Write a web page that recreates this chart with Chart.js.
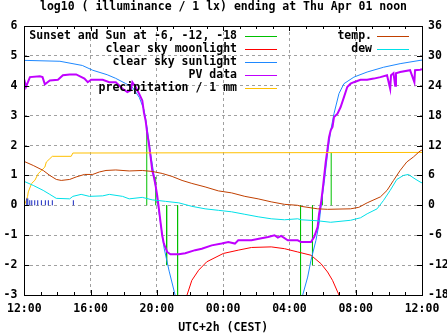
<!DOCTYPE html>
<html>
<head>
<meta charset="utf-8">
<script src="https://cdn.jsdelivr.net/npm/chart.js@4/dist/chart.umd.min.js"></script>
<style>
  html, body { margin: 0; padding: 0; background: #fff; }
  canvas { display: block; }
</style>
</head>
<body>
<canvas id="chart" width="447" height="335"></canvas>
<script>
'use strict';

// ---------- Data (x = hours after 12:00 noon) ----------
const TITLE = 'log10 ( illuminance / 1 lx) ending at Thu Apr 01 noon';

// sunset, sun at -6, -12, -18 (evening) and back (morning)
const eventHours = [7.39, 7.93, 8.59, 9.25, 16.67, 17.39, 17.99, 18.52];
const eventLevels = [2.6, 0.95, -2.0, -3.0, -3.0, -2.0, 0.4, 1.77];

const moonHours = [9.82, 10.11, 10.52, 11.01, 12.01, 12.91, 13.71, 14.90, 15.70, 16.50, 17.30, 17.90, 18.30, 18.60, 18.99];
const moonLevels = [-3.0, -2.51, -2.17, -1.89, -1.61, -1.50, -1.41, -1.39, -1.45, -1.56, -1.67, -1.95, -2.23, -2.51, -3.0];

const sunHours = [0, 2.15, 3.5, 4.13, 5.0, 5.51, 6.1, 6.52, 6.94, 7.22, 7.32, 7.42, 7.62, 7.84, 8.14, 8.44, 8.74, 9.10,
  12.0,
  16.80, 17.10, 17.30, 17.60, 17.79, 17.90, 18.09, 18.30, 18.49, 18.69, 18.99, 19.29, 19.89, 20.69, 21.68, 22.68, 23.88, 24];
const sunLevels = [4.85, 4.82, 4.68, 4.52, 4.37, 4.25, 4.08, 3.95, 3.61, 3.2, 2.9, 2.55, 1.75, 0.95, -0.27, -1.44, -2.2, -3.0,
  null,
  -3.0, -2.4, -1.84, -1.17, -0.61, -0.06, 0.73, 1.73, 2.5, 3.07, 3.74, 4.07, 4.29, 4.46, 4.62, 4.74, 4.85, 4.86];

const pvHours = [0, 0.10, 0.34, 0.94, 1.10, 1.24, 1.54, 2.03, 2.33, 2.74, 3.13, 3.63, 3.83, 4.03, 4.73, 5.13, 5.52,
  5.93, 6.22, 6.42, 6.52, 6.72, 6.92, 7.12, 7.22, 7.32, 7.42, 7.52, 7.62, 7.72, 7.82, 7.92, 8.02, 8.12, 8.22, 8.32,
  8.42, 8.62, 8.82, 9.32, 9.71, 10.31, 10.71, 11.31, 11.91, 12.31, 12.71, 12.91, 13.71, 14.31, 14.71, 15.10, 15.30,
  15.50, 15.90, 16.50, 16.70, 17.30, 17.49, 17.70, 17.79, 17.90, 18.00, 18.09, 18.19, 18.30, 18.39, 18.49, 18.60,
  18.69, 18.90, 19.09, 19.29, 19.49, 19.69, 19.89, 20.29, 20.69, 21.09, 21.49, 21.89, 22.08, 22.13, 22.28, 22.38,
  22.43, 22.68, 23.28, 23.54, 23.58, 23.88, 24];
const pvLevels = [4.20, 3.96, 4.29, 4.32, 4.29, 4.05, 4.18, 4.20, 4.35, 4.38, 4.38, 4.24, 4.12, 4.20, 4.20, 4.12, 4.12,
  3.90, 3.79, 3.85, 4.12, 3.96, 3.74, 3.51, 3.1, 2.84, 2.4, 2.06, 1.62, 1.17, 0.95, 0.67, 0.33, -0.11, -0.56, -1.0,
  -1.28, -1.56, -1.64, -1.64, -1.60, -1.50, -1.45, -1.34, -1.28, -1.23, -1.28, -1.17, -1.17, -1.10, -1.06, -1.0, -1.08,
  -1.02, -1.17, -1.17, -1.23, -1.23, -1.06, -0.73, -0.28, 0.06, 0.5, 0.95, 1.45, 1.9, 2.28, 2.51, 2.62,
  2.95, 3.07, 3.29, 3.62, 3.96, 4.07, 4.12, 4.20, 4.20, 4.24, 4.29, 4.35, 3.9, 4.35, 4.42, 4.0,
  4.42, 4.46, 4.52, 4.12, 4.52, 4.54, 4.55];

const rainTotalHours = [0, 0.12, 0.2, 0.24, 0.44, 0.64, 0.84, 1.04, 1.24, 1.33, 1.54, 1.69, 2.83, 2.93, 24];
const rainTotalLevels = [0, 0.17, 0.3, 0.45, 0.73, 0.84, 1.06, 1.17, 1.28, 1.45, 1.56, 1.64, 1.64, 1.75, 1.77];

const rainHours = [0.15, 0.21, 0.33, 0.45, 0.63, 0.81, 1.03, 1.27, 1.45, 1.69, 2.96];
const rainLevels = [0.23, 0.23, 0.17, 0.17, 0.17, 0.17, 0.17, 0.17, 0.17, 0.17, 0.17];

// temperature and dew point, deg C (right axis)
const tempHours = [0, 0.54, 1.14, 1.54, 1.93, 2.23, 2.74, 3.13, 3.63, 4.13, 4.53, 4.93, 5.52, 6.33, 7.12, 7.72, 8.32,
  8.92, 9.52, 10.11, 10.91, 11.71, 12.51, 13.31, 14.11, 14.90, 15.70, 16.50, 16.70, 17.70, 18.30, 19.69, 20.19, 20.69,
  21.49, 21.89, 22.28, 22.68, 23.08, 23.48, 23.88, 24];
const tempValues = [8.8, 8.0, 7.0, 6.0, 5.2, 5.0, 5.2, 5.7, 6.2, 6.2, 6.7, 7.0, 7.1, 6.9, 7.0, 6.8, 6.4,
  5.8, 5.0, 4.4, 3.7, 2.9, 2.5, 1.8, 1.3, 0.7, 0.2, 0, -0.2, -0.7, -0.8, -0.7, -0.4, 0.5,
  1.7, 3.0, 5.0, 7.0, 8.7, 9.7, 10.9, 11.1];

const dewHours = [0, 0.54, 1.14, 1.54, 1.93, 2.74, 2.93, 3.43, 3.93, 4.73, 5.13, 5.93, 6.33, 7.12, 7.72, 8.52, 9.32,
  10.11, 10.91, 11.71, 12.51, 13.31, 14.11, 14.90, 15.70, 16.50, 16.70, 17.70, 18.49, 19.69, 20.29, 20.69, 21.29,
  21.68, 22.08, 22.48, 22.88, 23.18, 23.58, 23.88, 24];
const dewValues = [4.8, 4.0, 3.0, 2.2, 1.4, 1.3, 1.8, 2.2, 1.8, 1.9, 2.2, 1.8, 1.3, 1.6, 1.1, 0.8, 0.5,
  -0.2, -0.7, -1.0, -1.3, -1.8, -2.3, -2.7, -2.9, -2.7, -2.9, -3.1, -3.4, -3.0, -2.5, -1.7, -0.7,
  1.0, 3.0, 5.2, 6.0, 6.2, 5.3, 4.7, 4.5];

// ---------- Helpers ----------
const FONT = { family: '"DejaVu Sans Mono", monospace', size: 11.5, weight: 'bold' };

function points(xs, ys) {
  return xs.map((x, i) => ({ x, y: ys[i] }));
}

// vertical sticks from 0 to the value, broken apart by nulls
function impulses(xs, ys) {
  const pts = [];
  xs.forEach((x, i) => { pts.push({ x, y: 0 }, { x, y: ys[i] }, { x, y: null }); });
  return pts;
}

function hourLabel(v) {
  const hh = (12 + v) % 24;
  return String(hh).padStart(2, '0') + ':00';
}

function line(label, color, data, extra) {
  return Object.assign({
    label, data, borderColor: color, backgroundColor: color,
    borderWidth: 1, pointRadius: 0, tension: 0, fill: false, spanGaps: false
  }, extra || {});
}

// ---------- Plugins ----------
const frame = {
  id: 'frame',
  afterDraw(chart) {
    const { ctx, chartArea: a, scales } = chart;
    ctx.save();
    ctx.strokeStyle = '#000';
    ctx.lineWidth = 1;
    ctx.beginPath();
    for (let h = 0; h <= 24; h++) {
      const x = Math.round(scales.x.getPixelForValue(h)) + 0.5;
      const len = h % 4 === 0 ? 5 : 3;
      ctx.moveTo(x, a.bottom); ctx.lineTo(x, a.bottom - len);
      ctx.moveTo(x, a.top); ctx.lineTo(x, a.top + len);
    }
    for (let v = -3; v <= 6; v++) {
      const y = Math.round(scales.y.getPixelForValue(v)) + 0.5;
      ctx.moveTo(a.left, y); ctx.lineTo(a.left + 5, y);
      ctx.moveTo(a.right, y); ctx.lineTo(a.right - 5, y);
    }
    ctx.stroke();
    ctx.strokeRect(Math.round(a.left) + 0.5, Math.round(a.top) + 0.5,
      Math.round(a.right - a.left), Math.round(a.bottom - a.top));
    ctx.restore();
  }
};

const keyBox = {
  id: 'keyBox',
  afterDatasetsDraw(chart) {
    const { ctx } = chart;
    const cols = [{ textRight: 237, x0: 245, x1: 277 }, { textRight: 372, x0: 377, x1: 409 }];
    const rows = [0, 0];
    ctx.save();
    ctx.font = 'bold 11.5px "DejaVu Sans Mono", monospace';
    ctx.textAlign = 'right';
    ctx.textBaseline = 'middle';
    chart.data.datasets.forEach((ds) => {
      if (!ds.label) return;
      const c = ds.keyCol || 0;
      const y = 36 + 13 * rows[c]++;
      ctx.fillStyle = '#000';
      ctx.fillText(ds.label, cols[c].textRight, y);
      ctx.strokeStyle = ds.borderColor;
      ctx.lineWidth = 1;
      ctx.beginPath();
      ctx.moveTo(cols[c].x0, y + 0.5);
      ctx.lineTo(cols[c].x1, y + 0.5);
      ctx.stroke();
    });
    ctx.restore();
  }
};

// ---------- Chart ----------
const datasets = [
  line('Sunset and Sun at -6, -12, -18', '#00c000', impulses(eventHours, eventLevels), { order: 8 }),
  line('clear sky moonlight', '#ff0000', points(moonHours, moonLevels), { order: 7 }),
  line('clear sky sunlight', '#1e88ff', points(sunHours, sunLevels), { order: 6 }),
  line('PV data', '#c000ff', points(pvHours, pvLevels), { order: 5, borderWidth: 2 }),
  line('precipitation / 1 mm', '#ffc000', points(rainTotalHours, rainTotalLevels), { order: 4 }),
  line('', '#1828c0', impulses(rainHours, rainLevels), { order: 3 }),
  line('temp.', '#c04000', points(tempHours, tempValues), { order: 2, yAxisID: 'y2', keyCol: 1 }),
  line('dew', '#00e0e8', points(dewHours, dewValues), { order: 1, yAxisID: 'y2', keyCol: 1 })
];

new Chart(document.getElementById('chart'), {
  type: 'line',
  data: { datasets },
  options: {
    responsive: false,
    animation: false,
    devicePixelRatio: 1,
    layout: { padding: 0 },
    plugins: {
      legend: { display: false },
      tooltip: { enabled: false },
      title: {
        display: true, text: TITLE, color: '#000', font: FONT,
        padding: { top: 0, bottom: 12.2 }
      }
    },
    scales: {
      x: {
        type: 'linear', min: 0, max: 24,
        ticks: { stepSize: 4, color: '#000', font: FONT, padding: 7, maxRotation: 0, autoSkip: false, callback: hourLabel },
        grid: { color: '#a0a0a0', drawTicks: false },
        border: { display: false, dash: [3, 3] },
        title: { display: true, text: 'UTC+2h (CEST)', color: '#000', font: FONT, padding: { top: 0, bottom: 0 } },
        afterFit(s) { s.height = 40; }
      },
      y: {
        position: 'left', min: -3, max: 6,
        ticks: { stepSize: 1, color: '#000', font: FONT, padding: 7 },
        grid: { color: '#a0a0a0', drawTicks: false },
        border: { display: false, dash: [3, 3] },
        afterFit(s) { s.width = 21; }
      },
      y2: {
        position: 'right', min: -18, max: 36,
        ticks: { stepSize: 6, color: '#000', font: FONT, padding: 6 },
        grid: { drawOnChartArea: false, drawTicks: false },
        border: { display: false },
        afterFit(s) { s.width = 25; }
      }
    }
  },
  plugins: [frame, keyBox]
});
</script>
</body>
</html>
